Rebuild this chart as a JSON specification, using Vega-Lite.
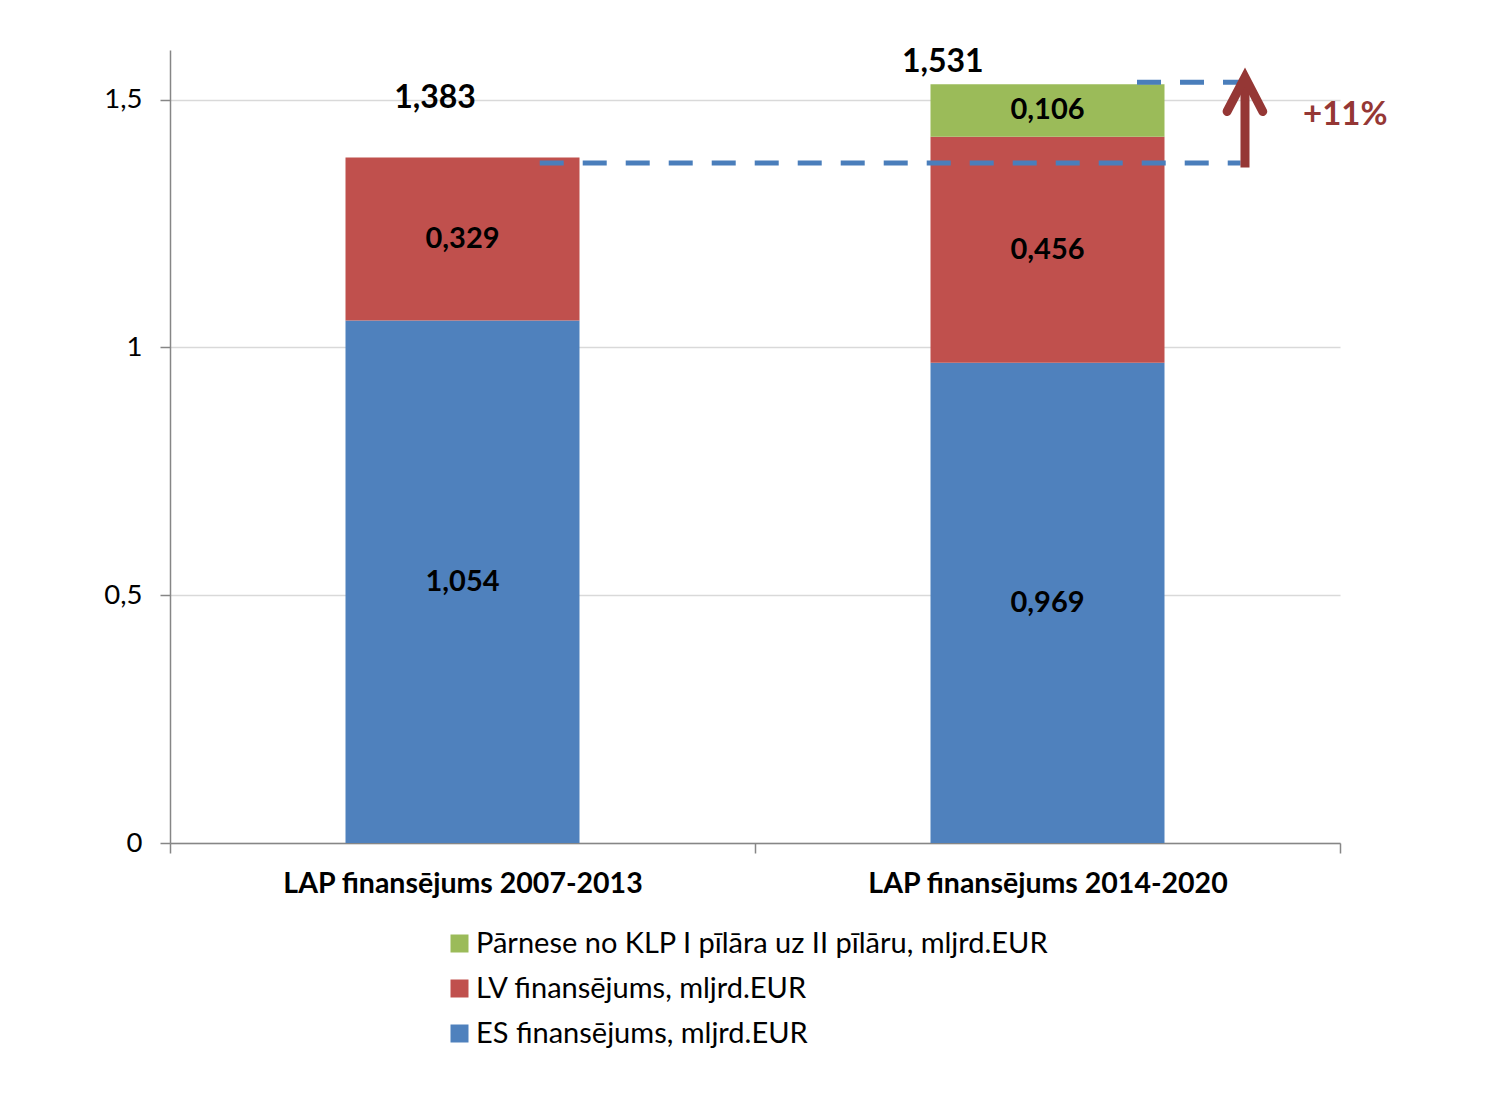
{
  "$schema": "https://vega.github.io/schema/vega-lite/v6.json",
  "width": 1170,
  "height": 793,
  "autosize": {"type": "none"},
  "padding": {"left": 170, "top": 50, "right": 150, "bottom": 271},
  "background": "white",
  "config": {
    "locale": {"number": {"decimal": ",", "thousands": " ", "grouping": [3], "currency": ["", " €"]}},
    "view": {"stroke": null},
    "font": "Lato"
  },
  "datasets": {
    "fin": [
      {"periods": "LAP finansējums 2007-2013", "komponente": "ES finansējums, mljrd.EUR", "k": 1, "value": 1.054},
      {"periods": "LAP finansējums 2007-2013", "komponente": "LV finansējums, mljrd.EUR", "k": 2, "value": 0.329},
      {"periods": "LAP finansējums 2014-2020", "komponente": "ES finansējums, mljrd.EUR", "k": 1, "value": 0.969},
      {"periods": "LAP finansējums 2014-2020", "komponente": "LV finansējums, mljrd.EUR", "k": 2, "value": 0.456},
      {"periods": "LAP finansējums 2014-2020", "komponente": "Pārnese no KLP I pīlāra uz II pīlāru, mljrd.EUR", "k": 3, "value": 0.106}
    ],
    "totals": [
      {"x": 0.453, "y": 1.504, "total": 1.383},
      {"x": 1.321, "y": 1.575, "total": 1.531}
    ],
    "dashes": [
      {"line": "2007-2013", "x": 0.632, "x2": 1.83, "y": 1.372},
      {"line": "2014-2020", "x": 1.653, "x2": 1.834, "y": 1.535}
    ],
    "shaft": [{"x": 1.8376, "y": 1.363, "y2": 1.54}],
    "head": [
      {"p": 1, "x": 1.807, "y": 1.476},
      {"p": 2, "x": 1.8376, "y": 1.545},
      {"p": 3, "x": 1.868, "y": 1.476}
    ],
    "pct": [{"x": 2.009, "y": 1.468, "txt": "+11%"}]
  },
  "layer": [
    {
      "data": {"name": "fin"},
      "layer": [
        {
          "mark": {"type": "bar", "width": {"band": 0.4}},
          "encoding": {
            "x": {
              "field": "periods", "type": "nominal", "sort": null,
              "scale": {"paddingInner": 0, "paddingOuter": 0},
              "axis": {
                "title": null, "labelAngle": 0, "labelFontSize": 28.5, "labelFontWeight": "bold",
                "labelColor": "black", "tickBand": "extent", "tickSize": 10, "tickColor": "#868686",
                "tickWidth": 1.5, "domainColor": "#868686", "domainWidth": 1.5,
                "labelPadding": 16, "grid": false, "labelLimit": 1000
              }
            },
            "y": {
              "field": "value", "type": "quantitative", "stack": "zero",
              "scale": {"domain": [0, 1.6], "nice": false},
              "axis": {
                "title": null, "values": [0, 0.5, 1, 1.5], "format": ".1~f",
                "labelFontSize": 27.5, "labelColor": "black", "tickSize": 10, "tickColor": "#868686",
                "domainColor": "#868686", "domainWidth": 1.5, "tickWidth": 1.5, "gridColor": "#D9D9D9", "gridWidth": 1.5, "labelPadding": 18
              }
            },
            "color": {
              "field": "komponente", "type": "nominal",
              "scale": {
                "domain": ["Pārnese no KLP I pīlāra uz II pīlāru, mljrd.EUR", "LV finansējums, mljrd.EUR", "ES finansējums, mljrd.EUR"],
                "range": ["#9BBB59", "#C0504D", "#4F81BD"]
              },
              "legend": {
                "orient": "none", "legendX": 275, "legendY": 879, "title": null,
                "labelFontSize": 29, "labelColor": "black", "symbolType": "square", "symbolSize": 324,
                "symbolStrokeWidth": 0, "rowPadding": 15, "labelOffset": 2, "labelLimit": 1000
              }
            },
            "order": {"field": "k", "type": "quantitative"}
          }
        },
        {
          "transform": [
            {"stack": "value", "groupby": ["periods"], "sort": [{"field": "k", "order": "ascending"}], "as": ["v0", "v1"]},
            {"calculate": "(datum.v0 + datum.v1) / 2", "as": "mid"}
          ],
          "mark": {"type": "text", "fontSize": 29, "fontWeight": "bold", "color": "black"},
          "encoding": {
            "x": {"field": "periods", "type": "nominal", "sort": null},
            "y": {"field": "mid", "type": "quantitative"},
            "text": {"field": "value", "type": "quantitative", "format": ".3f"}
          }
        }
      ]
    },
    {
      "layer": [
        {
          "data": {"name": "dashes"},
          "mark": {"type": "rule", "color": "#4A7EBB", "strokeWidth": 5, "strokeDash": [24, 19]},
          "encoding": {
            "x": {"field": "x", "type": "quantitative", "scale": {"domain": [0, 2], "nice": false}, "axis": null},
            "x2": {"field": "x2"},
            "y": {"field": "y", "type": "quantitative"}
          }
        },
        {
          "data": {"name": "shaft"},
          "mark": {"type": "rule", "color": "#953735", "strokeWidth": 9},
          "encoding": {
            "x": {"field": "x", "type": "quantitative", "scale": {"domain": [0, 2], "nice": false}, "axis": null},
            "y": {"field": "y", "type": "quantitative"},
            "y2": {"field": "y2"}
          }
        },
        {
          "data": {"name": "head"},
          "mark": {"type": "line", "color": "#953735", "strokeWidth": 9, "strokeCap": "round", "strokeJoin": "miter"},
          "encoding": {
            "x": {"field": "x", "type": "quantitative", "scale": {"domain": [0, 2], "nice": false}, "axis": null},
            "y": {"field": "y", "type": "quantitative"},
            "order": {"field": "p", "type": "quantitative"}
          }
        },
        {
          "data": {"name": "totals"},
          "mark": {"type": "text", "fontSize": 32, "fontWeight": "bold", "color": "black"},
          "encoding": {
            "x": {"field": "x", "type": "quantitative", "scale": {"domain": [0, 2], "nice": false}, "axis": null},
            "y": {"field": "y", "type": "quantitative"},
            "text": {"field": "total", "type": "quantitative", "format": ".3f"}
          }
        },
        {
          "data": {"name": "pct"},
          "mark": {"type": "text", "fontSize": 33, "fontWeight": "bold", "color": "#953735"},
          "encoding": {
            "x": {"field": "x", "type": "quantitative", "scale": {"domain": [0, 2], "nice": false}, "axis": null},
            "y": {"field": "y", "type": "quantitative"},
            "text": {"field": "txt", "type": "nominal"}
          }
        }
      ]
    }
  ],
  "resolve": {"scale": {"x": "independent"}}
}
